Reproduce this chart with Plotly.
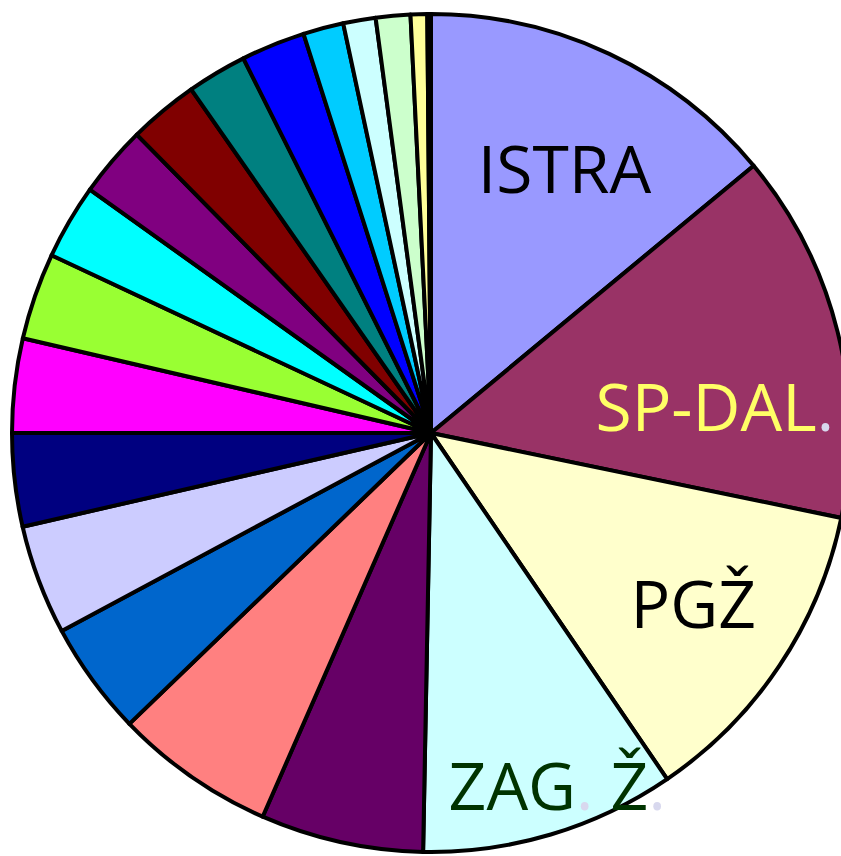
import plotly.graph_objects as go

labels = ["ISTRA", "SP-DAL.", "PGŽ", "ZAG. Ž.", "Ž5", "Ž6", "Ž7", "Ž8", "Ž9", "Ž10",
          "Ž11", "Ž12", "Ž13", "Ž14", "Ž15", "Ž16", "Ž17", "Ž18", "Ž19", "Ž20", "Ž21"]
values = [13.99, 14.26, 12.22, 9.83, 6.28, 6.21, 4.38, 4.24, 3.59, 3.63,
          3.34, 2.89, 2.75, 2.69, 2.31, 2.47, 1.56, 1.25, 1.33, 0.64, 0.14]
colors = ["#9999FF", "#993366", "#FFFFCC", "#CCFFFF", "#660066", "#FF8080", "#0066CC",
          "#CCCCFF", "#000080", "#FF00FF", "#99FF33", "#00FFFF", "#800080", "#800000",
          "#008080", "#0000FF", "#00CCFF", "#CCFFFF", "#CCFFCC", "#FFFF99", "#6666CC"]

dot = "<span style='color:#D8D8EE'>.</span>"
nb = "\u00a0"
shown_text = [nb + "ISTRA",
              nb + "<br>SP-DAL" + dot,
              nb + "PGŽ",
              nb + "<br>" + nb * 4 + "ZAG" + dot + " Ž" + dot] + [""] * 17
text_colors = ["#000000", "#FFFF66", "#000000", "#003300"] + ["#000000"] * 17

fig = go.Figure(go.Pie(
    labels=labels,
    values=values,
    sort=False,
    direction="clockwise",
    rotation=0,
    marker=dict(colors=colors, line=dict(color="#000000", width=4)),
    text=shown_text,
    texttemplate="%{text}",
    textposition="inside",
    insidetextorientation="horizontal",
    textfont=dict(family="Open Sans", size=66, color=text_colors),
    showlegend=False,
    hoverinfo="label+percent",
    domain=dict(x=[12 / 860, 850 / 860], y=[4 / 856, 842 / 856]),
))

fig.update_layout(
    width=860, height=856,
    margin=dict(l=0, r=0, t=0, b=0),
    paper_bgcolor="#FFFFFF",
    plot_bgcolor="#FFFFFF",
    uniformtext=dict(minsize=66, mode="show"),
)

fig.write_html("out.html",
               config={"displayModeBar": False},
               post_script="document.body.style.margin='0';document.body.style.overflow='hidden';")
